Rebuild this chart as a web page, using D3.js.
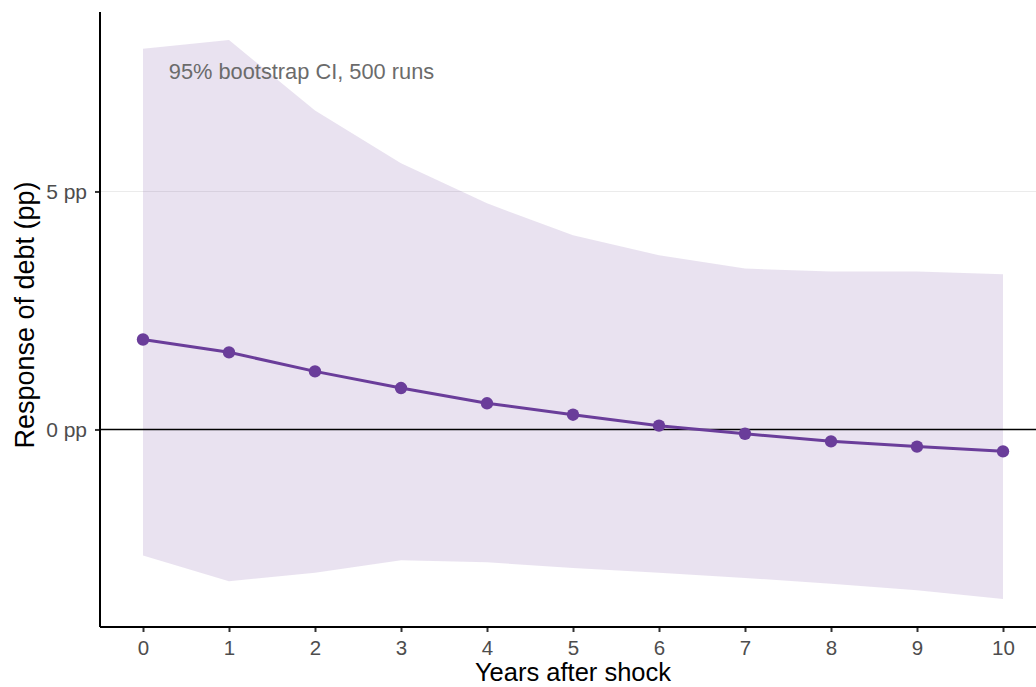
<!DOCTYPE html>
<html>
<head>
<meta charset="utf-8">
<script src="https://cdn.jsdelivr.net/npm/d3@7"></script>
<style>
  html, body { margin: 0; padding: 0; background: #fff; }
  svg { display: block; font-family: "Liberation Sans", Arial, sans-serif; }
</style>
</head>
<body>
<svg id="chart" width="1036" height="687"></svg>
<script>
// Impulse response of debt to a shock, with bootstrap confidence band
const years = [0, 1, 2, 3, 4, 5, 6, 7, 8, 9, 10];
const response = [1.89, 1.62, 1.22, 0.87, 0.55, 0.31, 0.08, -0.09, -0.25, -0.36, -0.46];
const ciUpper = [8.00, 8.18, 6.70, 5.59, 4.75, 4.08, 3.66, 3.38, 3.32, 3.32, 3.26];
const ciLower = [-2.65, -3.19, -3.01, -2.75, -2.79, -2.91, -3.01, -3.12, -3.24, -3.38, -3.56];
const yTicks = [0, 5];
const xTicks = years;

const svg = d3.select("#chart");
const W = 1036, H = 687;
const panel = { left: 100, top: 12, bottom: 627, right: 1046 };
const FONT = "Liberation Sans, Arial, sans-serif";

const x = d3.scaleLinear().domain([-0.5, 10.5]).range([panel.left, panel.right]);
const y = d3.scaleLinear().domain([-4.15, 8.77]).range([panel.bottom, panel.top]);

const purple = "#6a3d9a";

// Panel clip
svg.append("defs").append("clipPath").attr("id", "panelClip")
  .append("rect").attr("x", panel.left).attr("y", panel.top)
  .attr("width", panel.right - panel.left).attr("height", panel.bottom - panel.top);

const plot = svg.append("g").attr("clip-path", "url(#panelClip)");

// Major horizontal gridlines
plot.selectAll("line.grid").data(yTicks).join("line")
  .attr("class", "grid")
  .attr("x1", panel.left).attr("x2", panel.right)
  .attr("y1", d => y(d)).attr("y2", d => y(d))
  .attr("stroke", "#ebebeb").attr("stroke-width", 1);

// Confidence band
const band = years.map((yr, i) => ({ yr, lo: ciLower[i], hi: ciUpper[i] }));
plot.append("path").datum(band)
  .attr("d", d3.area().x(d => x(d.yr)).y0(d => y(d.lo)).y1(d => y(d.hi)))
  .attr("fill", purple).attr("fill-opacity", 0.15);

// Zero reference line
plot.append("line")
  .attr("x1", panel.left).attr("x2", panel.right)
  .attr("y1", y(0)).attr("y2", y(0))
  .attr("stroke", "#000").attr("stroke-width", 1.4);

// Point estimates
const pts = years.map((yr, i) => ({ yr, v: response[i] }));
plot.append("path").datum(pts)
  .attr("d", d3.line().x(d => x(d.yr)).y(d => y(d.v)))
  .attr("fill", "none").attr("stroke", purple).attr("stroke-width", 3);
plot.selectAll("circle.pt").data(pts).join("circle")
  .attr("class", "pt")
  .attr("cx", d => x(d.yr)).attr("cy", d => y(d.v)).attr("r", 6.2)
  .attr("fill", purple);

// Annotation
svg.append("text")
  .attr("x", x(0.3)).attr("y", 79)
  .attr("fill", "#6b6b6b").attr("font-size", 21.8).attr("font-family", FONT)
  .text("95% bootstrap CI, 500 runs");

// Axes
const xAxis = d3.axisBottom(x).tickValues(xTicks).tickSize(5).tickPadding(8).tickFormat(d3.format("d"));
const gx = svg.append("g").attr("transform", `translate(0,${panel.bottom})`).call(xAxis);
gx.select(".domain").remove();
gx.append("line").attr("x1", panel.left).attr("x2", W).attr("y1", 0).attr("y2", 0)
  .attr("stroke", "#000").attr("stroke-width", 2);
gx.selectAll(".tick line").attr("stroke", "#333").attr("stroke-width", 2);
gx.selectAll(".tick text").attr("fill", "#4d4d4d").attr("font-size", 20.5)
  .attr("font-family", FONT);

const yAxis = d3.axisLeft(y).tickValues(yTicks).tickSize(5).tickPadding(8).tickFormat(d => `${d} pp`);
const gy = svg.append("g").attr("transform", `translate(${panel.left},0)`).call(yAxis);
gy.select(".domain").remove();
gy.append("line").attr("x1", 0).attr("x2", 0).attr("y1", panel.top).attr("y2", panel.bottom)
  .attr("stroke", "#000").attr("stroke-width", 2);
gy.selectAll(".tick line").attr("stroke", "#333").attr("stroke-width", 2);
gy.selectAll(".tick text").attr("fill", "#4d4d4d").attr("font-size", 21)
  .attr("font-family", FONT);

// Axis titles
svg.append("text")
  .attr("x", 573).attr("y", 681)
  .attr("text-anchor", "middle").attr("font-size", 25.5).attr("fill", "#000")
  .attr("font-family", FONT)
  .text("Years after shock");
svg.append("text")
  .attr("transform", `translate(34,315) rotate(-90)`)
  .attr("text-anchor", "middle").attr("font-size", 27).attr("fill", "#000")
  .attr("font-family", FONT)
  .text("Response of debt (pp)");
</script>
</body>
</html>
